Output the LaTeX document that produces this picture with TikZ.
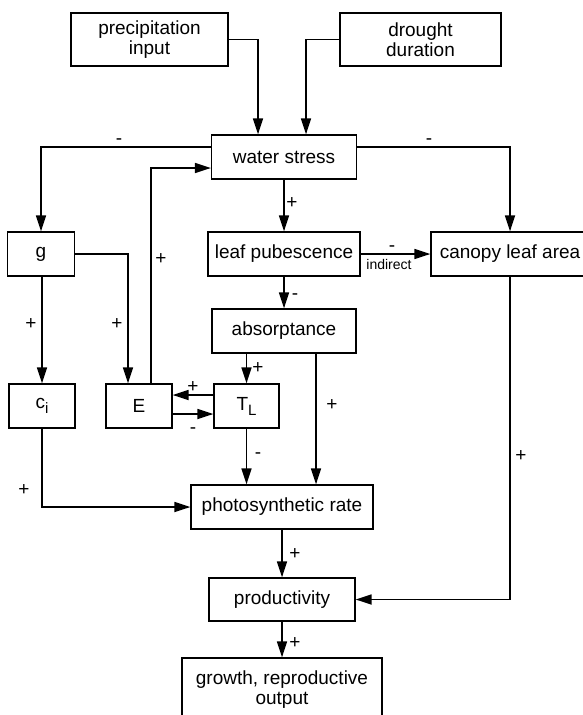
\documentclass[tikz,border=0pt]{standalone}
\usepackage{fontspec}
\setmainfont{Liberation Sans}
\usetikzlibrary{arrows.meta}
\newcommand{\lowidx}[1]{\raisebox{-5pt}{\fontsize{15}{15}\selectfont #1}}
\begin{document}
\begin{tikzpicture}[x=1pt,y=-1pt,>={Triangle[length=16pt,width=10pt]},
	box/.style={draw,line width=1.2pt,inner sep=2pt,align=center,
		font=\fontsize{19}{20}\selectfont},
	link/.style={->,line width=1.7pt},
	sign/.style={inner sep=0pt,text height=12pt,text depth=0pt,
		font=\fontsize{19}{19}\selectfont}]
\useasboundingbox (0,0) rectangle (583,715);
\clip (0,0) rectangle (583,715);
\fill[white] (0,0) rectangle (583,715);
\node[box,minimum width=157pt,minimum height=53pt] (prec) at (149.5,39.5)
	{precipitation\\input};
\node[box,minimum width=161pt,minimum height=53pt] (drought) at (420.5,39.5)
	{drought\\duration};
\node[box,minimum width=145pt,minimum height=44pt] (ws) at (284,157) {water stress};
\node[box,minimum width=67pt,minimum height=44pt] (g) at (41,254) {g};
\node[box,minimum width=152pt,minimum height=44pt] (pub) at (284,254) {leaf pubescence};
\node[box,minimum width=158pt,minimum height=44pt] (canopy) at (510,254) {canopy leaf area};
\node[box,minimum width=144pt,minimum height=44pt] (abs) at (284,331) {absorptance};
\node[box,minimum width=66pt,minimum height=44pt] (ci) at (42,406) {c\lowidx{i}};
\node[box,minimum width=66pt,minimum height=44pt] (E) at (139,406) {E};
\node[box,minimum width=65pt,minimum height=44pt] (TL) at (246.5,406) {T\lowidx{L}};
\node[box,minimum width=182pt,minimum height=44pt] (photo) at (282,507) {photosynthetic rate};
\node[box,minimum width=146pt,minimum height=43pt] (prod) at (282,599.5) {productivity};
\node[box,minimum width=200pt,minimum height=64pt] (growth) at (282,690)
	{growth, reproductive\\output};
\draw[link] (prec.east) -| ([xshift=-26pt]ws.north);
\draw[link] (drought.west) -| ([xshift=22pt]ws.north);
\draw[link] ([yshift=10pt]ws.west) -| (g.north);
\draw[link] ([yshift=10pt]ws.east) -| (canopy.north);
\draw[link] ([xshift=12pt]E.north) |- ([yshift=-11pt]ws.west);
\draw[link] (ws) -- (pub);
\draw[link] (pub) -- (abs);
\draw[link] (pub) -- (canopy);
\draw[link] (g.east) -| ([xshift=-11pt]E.north);
\draw[link] (g.south -| ci.north) -- (ci.north);
\draw[link] (abs.south -| TL.north) -- (TL.north);
\draw[link] ([yshift=11pt]TL.west) -- ([yshift=11pt]E.east);
\draw[link] ([yshift=-8pt]E.east) -- ([yshift=-8pt]TL.west);
\draw[link] ([xshift=32pt]abs.south) -- ([xshift=32pt]abs.south |- photo.north);
\draw[link] (TL.south) -- (TL.south |- photo.north);
\draw[link] (ci.south) |- (photo.west);
\draw[link] (photo) -- (prod);
\draw[link] (canopy.south) |- (prod.east);
\draw[link] (prod) -- (growth);
\node[font=\fontsize{14}{14}\selectfont] (ind) at (389,264) {indirect};
\foreach \x/\y/\s [count=\i] in {119/138/-,429/138/-,292/202/+,161/258/+,
	31/323/+,117/323/+,295/293/-,392/245/-,258/367/+,193/386/+,193/427/-,
	332/404/+,258/452/-,24/489/+,521/455/+,295/553/+,295/642/+}{
\node[sign] (sign\i) at (\x,\y) {\s};
};
\end{tikzpicture}
\end{document}
